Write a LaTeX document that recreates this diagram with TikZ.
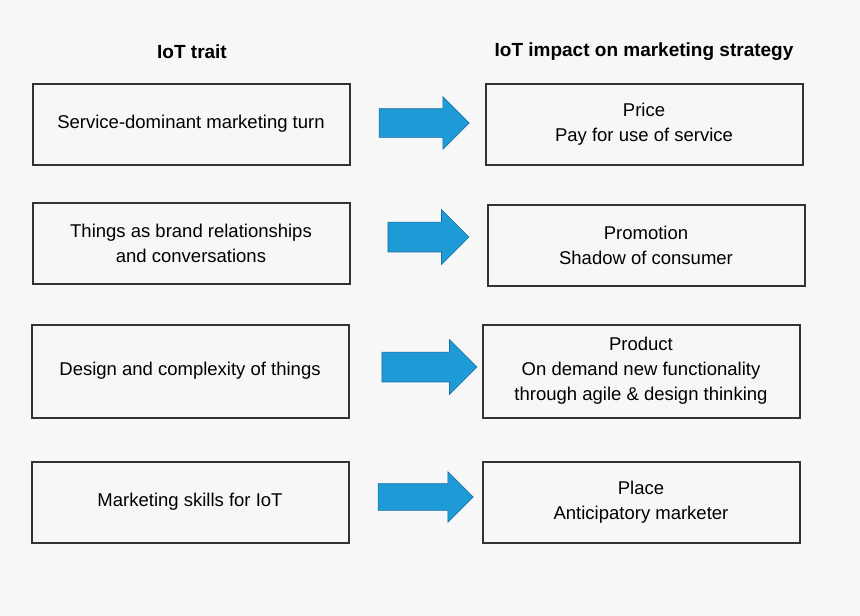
\documentclass[tikz,border=0pt]{standalone}
\usepackage{fontspec}
\setmainfont{Liberation Sans}
\usetikzlibrary{positioning,shapes.arrows}
\definecolor{bg}{HTML}{F7F7F7}
\definecolor{arrowblue}{HTML}{1E9BD7}
\definecolor{arrowedge}{HTML}{1A6FA0}
\definecolor{boxline}{HTML}{333333}
\tikzset{
    box/.style={draw=boxline, line width=2pt, fill=bg, minimum width=317pt,
        minimum height=81pt, align=center, font=\fontsize{18.5}{25}\selectfont},
    bigbox/.style={box, minimum height=93pt},
    head/.style={font=\bfseries\fontsize{19}{22}\selectfont},
    impact/.style={single arrow, fill=arrowblue, draw=arrowedge, line width=0.6pt,
        minimum height=90pt, minimum width=52pt, single arrow head extend=12pt,
        single arrow head indent=0pt, inner xsep=0pt, inner ysep=14pt}
}
\begin{document}
\begin{tikzpicture}[x=1pt,y=-1pt]
    \fill[bg] (0,0) rectangle (860,616);
    \useasboundingbox (0,0) rectangle (860,616);
    % headers
    \node[head] (h1) at (192,52) {IoT trait};
    \node[head] (h2) at (644,52) {IoT impact on marketing strategy};
    % traits
    \node[box] (t1) at (191,124) {Service-dominant marketing turn};
    \node[box] (t2) at (191,243) {Things as brand relationships\\and conversations};
    \node[bigbox] (t3) at (190,371) {Design and complexity of things};
    \node[box] (t4) at (190,502) {Marketing skills for IoT};
    % impacts
    \node[box] (m1) at (644,124) {Price\\Pay for use of service};
    \node[box] (m2) at (646,245) {Promotion\\Shadow of consumer};
    \node[bigbox] (m3) at (641,371) {Product\\On demand new functionality\\through agile \& design thinking};
    \node[box] (m4) at (641,502) {Place\\Anticipatory marketer};
    % arrows
    \node[impact] (a1) at (417,123) {};
    \node[impact, minimum height=81pt, minimum width=55pt] (a2) at (421,237) {};
    \node[impact, minimum height=95pt, minimum width=55pt] (a3) at (422,367) {};
    \node[impact, minimum height=95pt, minimum width=46pt, inner ysep=13pt] (a4) at (419,497) {};
\end{tikzpicture}
\end{document}
